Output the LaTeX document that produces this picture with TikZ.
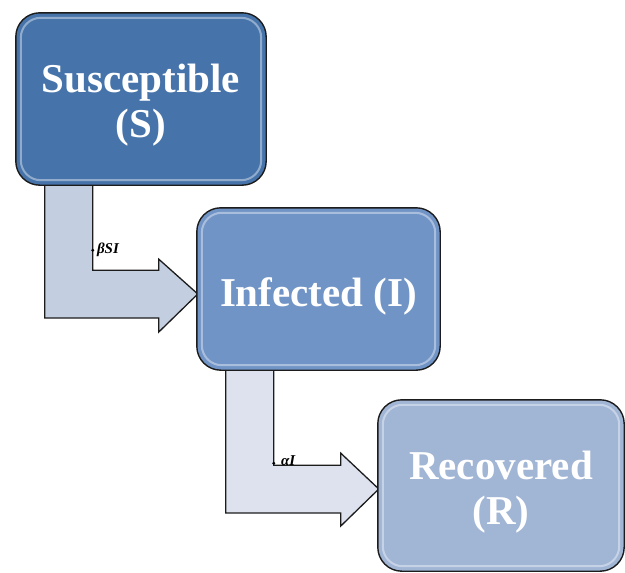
\documentclass[tikz,border=0pt]{standalone}
\usepackage{fontspec}
\setmainfont{Liberation Serif}
\usetikzlibrary{calc}
\definecolor{sBlue}{HTML}{4674AA}
\definecolor{iBlue}{HTML}{7194C6}
\definecolor{rBlue}{HTML}{A1B5D5}
\definecolor{arrA}{HTML}{C3CEE0}
\definecolor{arrB}{HTML}{DDE2EE}
\definecolor{edge}{HTML}{1C1C1C}
\tikzset{
  box/.style={draw=edge, line width=1.4pt, rounded corners=24pt, inner sep=0pt},
  boxtext/.style={align=center, text=white, inner sep=0pt, font=\fontsize{41}{45}\selectfont\bfseries},
  gloss/.style={draw=white, opacity=0.4, line width=2pt, rounded corners=20pt},
  flow/.style={draw=edge, line width=1.3pt, line join=miter},
  lbl/.style={font=\fontsize{15}{17}\selectfont\bfseries\itshape, inner sep=1pt, text=black},
}
\begin{document}
\begin{tikzpicture}[x=1pt,y=-1pt]
\useasboundingbox (0,0) rectangle (625,573);
% box placement (shapes)
\path (141,99) coordinate (cS) (318.5,289) coordinate (cI) (501,485.5) coordinate (cR);
\path (cS) node[minimum width=250pt, minimum height=172pt, inner sep=0pt] (S) {};
\path (cI) node[minimum width=243pt, minimum height=162pt, inner sep=0pt] (I) {};
\path (cR) node[minimum width=246pt, minimum height=171pt, inner sep=0pt] (R) {};
% arrow S -> I
\draw[flow, fill=arrA] ($(S.south west)+(29,-5)$) coordinate (a1) -- ++(48,0) -- ++(0,90) -- ++(66,0) -- ++(0,-11)
  -- ($(I.west)+(1,5)$) coordinate (t1) -- ++(-39,38) -- ++(0,-14) -- ++(-114,0) -- cycle;
% arrow I -> R
\draw[flow, fill=arrB] ($(I.south west)+(29,-5)$) coordinate (a2) -- ++(48,0) -- ++(0,100) -- ++(67,0) -- ++(0,-12)
  -- ($(R.west)+(1,3.5)$) coordinate (t2) -- ++(-38,37) -- ++(0,-13) -- ++(-115,0) -- cycle;
% boxes on top
\draw[box, fill=sBlue] (S.north west) rectangle (S.south east);
\draw[box, fill=iBlue] (I.north west) rectangle (I.south east);
\draw[box, fill=rBlue] (R.north west) rectangle (R.south east);
\foreach \n in {S,I,R}{
  \draw[gloss] ($(\n.north west)+(5,5)$) rectangle ($(\n.south east)+(-5,-5)$);
}
\node[boxtext] (St) at ($(S)+(0,6)$) {Susceptible\\(S)};
\node[boxtext] (It) at ($(I)+(0,7)$) {Infected (I)};
\node[boxtext] (Rt) at ($(R)+(0,7)$) {Recovered\\(R)};
% labels
\coordinate (d1) at ($(a1)+(48,70)$);
\fill (d1) circle (1.6pt);
\node[lbl, anchor=west] (l1) at ($(d1)+(3,0)$) {βSI};
\coordinate (d2) at ($(a2)+(48,98)$);
\fill (d2) circle (1.6pt);
\node[lbl, anchor=south west] (l2) at ($(d2)+(6,4)$) {αI};
\end{tikzpicture}
\end{document}
